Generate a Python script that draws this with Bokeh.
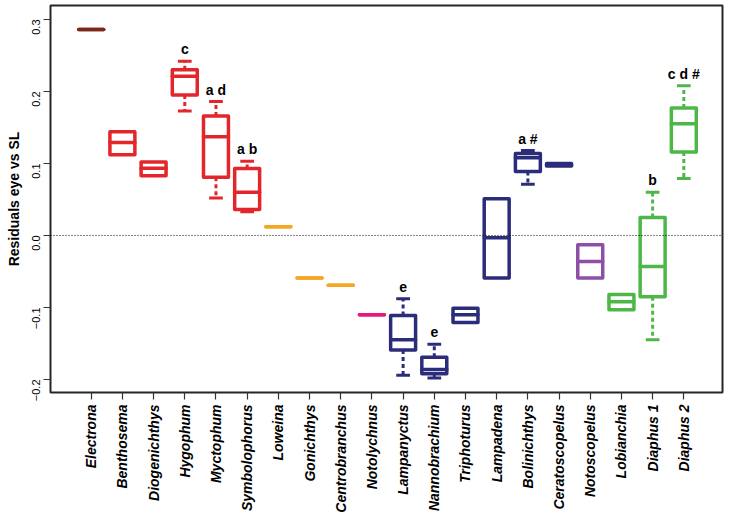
import math
from bokeh.plotting import figure
from bokeh.models import FixedTicker, Span, ColumnDataSource
from bokeh.core.properties import value
from bokeh.embed import file_html
from bokeh.resources import INLINE

# ---- data ----
genera = ["Electrona", "Benthosema", "Diogenichthys", "Hygophum", "Myctophum",
          "Symbolophorus", "Loweina", "Gonichthys", "Centrobranchus", "Notolychnus",
          "Lampanyctus", "Nannobrachium", "Triphoturus", "Lampadena", "Bolinichthys",
          "Ceratoscopelus", "Notoscopelus", "Lobianchia", "Diaphus 1", "Diaphus 2"]
lower_whisker = [0.286, 0.112, 0.083, 0.173, 0.052, 0.033, 0.012, -0.059, -0.069, -0.110,
                 -0.194, -0.198, -0.121, -0.059, 0.071, 0.0965, -0.059, -0.103, -0.145, 0.079]
q1 = [0.286, 0.112, 0.083, 0.195, 0.081, 0.036, 0.012, -0.059, -0.069, -0.110,
      -0.159, -0.192, -0.121, -0.059, 0.089, 0.0965, -0.059, -0.103, -0.085, 0.116]
median = [0.286, 0.129, 0.0935, 0.221, 0.137, 0.060, 0.012, -0.059, -0.069, -0.110,
          -0.145, -0.186, -0.110, -0.003, 0.108, 0.098, -0.036, -0.092, -0.043, 0.155]
q3 = [0.286, 0.144, 0.102, 0.230, 0.166, 0.093, 0.012, -0.059, -0.069, -0.110,
      -0.111, -0.169, -0.101, 0.051, 0.114, 0.100, -0.013, -0.082, 0.025, 0.177]
upper_whisker = [0.286, 0.144, 0.102, 0.242, 0.186, 0.103, 0.012, -0.059, -0.069, -0.110,
                 -0.088, -0.151, -0.101, 0.051, 0.118, 0.100, -0.013, -0.082, 0.060, 0.208]
group_colors = ["#7B2A1A", "#E3262B", "#E3262B", "#E3262B", "#E3262B", "#E3262B",
                "#F5A623", "#F5A623", "#F5A623", "#E5197E",
                "#2B2D7A", "#2B2D7A", "#2B2D7A", "#2B2D7A", "#2B2D7A", "#2B2D7A",
                "#8E4FA6", "#4DB848", "#4DB848", "#4DB848"]
annotations = ["", "", "", "c", "a d", "a b", "", "", "", "",
               "e", "e", "", "", "a #", "", "", "", "b", "c d #"]
y_ticks = [-0.2, -0.1, 0.0, 0.1, 0.2, 0.3]
y_tick_labels = ["\u22120.2", "\u22120.1", "0.0", "0.1", "0.2", "0.3"]
y_label = "Residuals eye vs SL"

FONT = "Liberation Sans"
xs = list(range(1, len(genera) + 1))
half_box = 0.4
half_cap = 0.22

p = figure(frame_width=672, frame_height=387,
           x_range=(-0.305, 21.24), y_range=(-0.2181, 0.3194),
           output_backend="svg", toolbar_location=None,
           min_border_left=50, min_border_right=3, min_border_top=5, min_border_bottom=4,
           background_fill_color="white", border_fill_color="white")

p.xgrid.visible = False
p.ygrid.visible = False
p.outline_line_color = "#262626"
p.outline_line_width = 2

# axes
p.xaxis.ticker = FixedTicker(ticks=xs)
p.xaxis.major_label_overrides = {x: g for x, g in zip(xs, genera)}
p.xaxis.major_label_orientation = math.pi / 2
p.xaxis.major_label_text_font = FONT
p.xaxis.major_label_text_font_style = "bold italic"
p.xaxis.major_label_text_font_size = "14px"
p.xaxis.major_label_text_color = "black"
p.xaxis.major_label_standoff = 5
p.xaxis.major_tick_out = 7
p.xaxis.major_tick_in = 0
p.xaxis.minor_tick_line_color = None
p.xaxis.axis_line_color = None
p.xaxis.major_tick_line_color = "#333333"
p.xaxis.major_tick_line_width = 1.2

p.yaxis.ticker = FixedTicker(ticks=y_ticks)
p.yaxis.major_label_overrides = {t: l for t, l in zip(y_ticks, y_tick_labels)}
p.yaxis.major_label_orientation = math.pi / 2
p.yaxis.major_label_text_font = FONT
p.yaxis.major_label_text_font_size = "11px"
p.yaxis.major_label_text_color = "black"
p.yaxis.major_label_standoff = 7
p.yaxis.major_tick_out = 7
p.yaxis.major_tick_in = 0
p.yaxis.minor_tick_line_color = None
p.yaxis.axis_line_color = None
p.yaxis.major_tick_line_color = "#333333"
p.yaxis.major_tick_line_width = 1.2
p.yaxis.axis_label = y_label
p.yaxis.axis_label_text_font = FONT
p.yaxis.axis_label_text_font_style = "bold"
p.yaxis.axis_label_text_font_size = "14px"
p.yaxis.axis_label_text_color = "black"
p.yaxis.axis_label_standoff = 4

# zero reference line
p.add_layout(Span(location=0, dimension="width", line_color="black",
                  line_width=1, line_dash="1 2"))

# whiskers (only where they extend beyond the box)
up_idx = [i for i in range(len(xs)) if upper_whisker[i] > q3[i]]
lo_idx = [i for i in range(len(xs)) if lower_whisker[i] < q1[i]]
wsrc = ColumnDataSource(dict(
    x=[xs[i] for i in up_idx] + [xs[i] for i in lo_idx],
    y0=[q3[i] for i in up_idx] + [q1[i] for i in lo_idx],
    y1=[upper_whisker[i] for i in up_idx] + [lower_whisker[i] for i in lo_idx],
    c=[group_colors[i] for i in up_idx] + [group_colors[i] for i in lo_idx],
))
p.segment(x0="x", y0="y0", x1="x", y1="y1", source=wsrc, line_color="c",
          line_width=3, line_dash="4 3")
csrc = ColumnDataSource(dict(
    x0=[xs[i] - half_cap for i in up_idx] + [xs[i] - half_cap for i in lo_idx],
    x1=[xs[i] + half_cap for i in up_idx] + [xs[i] + half_cap for i in lo_idx],
    y=[upper_whisker[i] for i in up_idx] + [lower_whisker[i] for i in lo_idx],
    c=[group_colors[i] for i in up_idx] + [group_colors[i] for i in lo_idx],
))
p.segment(x0="x0", y0="y", x1="x1", y1="y", source=csrc, line_color="c", line_width=3)

# boxes
bsrc = ColumnDataSource(dict(
    left=[x - half_box for x in xs], right=[x + half_box for x in xs],
    bottom=q1, top=q3, med=median, c=group_colors,
))
p.quad(left="left", right="right", bottom="bottom", top="top", source=bsrc,
       fill_color="white", line_color="c", line_width=3.5, line_join="round")
p.segment(x0="left", y0="med", x1="right", y1="med", source=bsrc,
          line_color="c", line_width=3.5, line_cap="round")

# significance letters
a_idx = [i for i in range(len(xs)) if annotations[i]]
asrc = ColumnDataSource(dict(
    x=[xs[i] for i in a_idx], y=[upper_whisker[i] for i in a_idx],
    t=[annotations[i] for i in a_idx],
))
p.text(x="x", y="y", text="t", source=asrc, text_font=value(FONT),
       text_font_style="bold", text_font_size="14px", text_color="black",
       text_align="center", text_baseline="middle", y_offset=-12)

open("out.html", "w").write(file_html(p, INLINE))
